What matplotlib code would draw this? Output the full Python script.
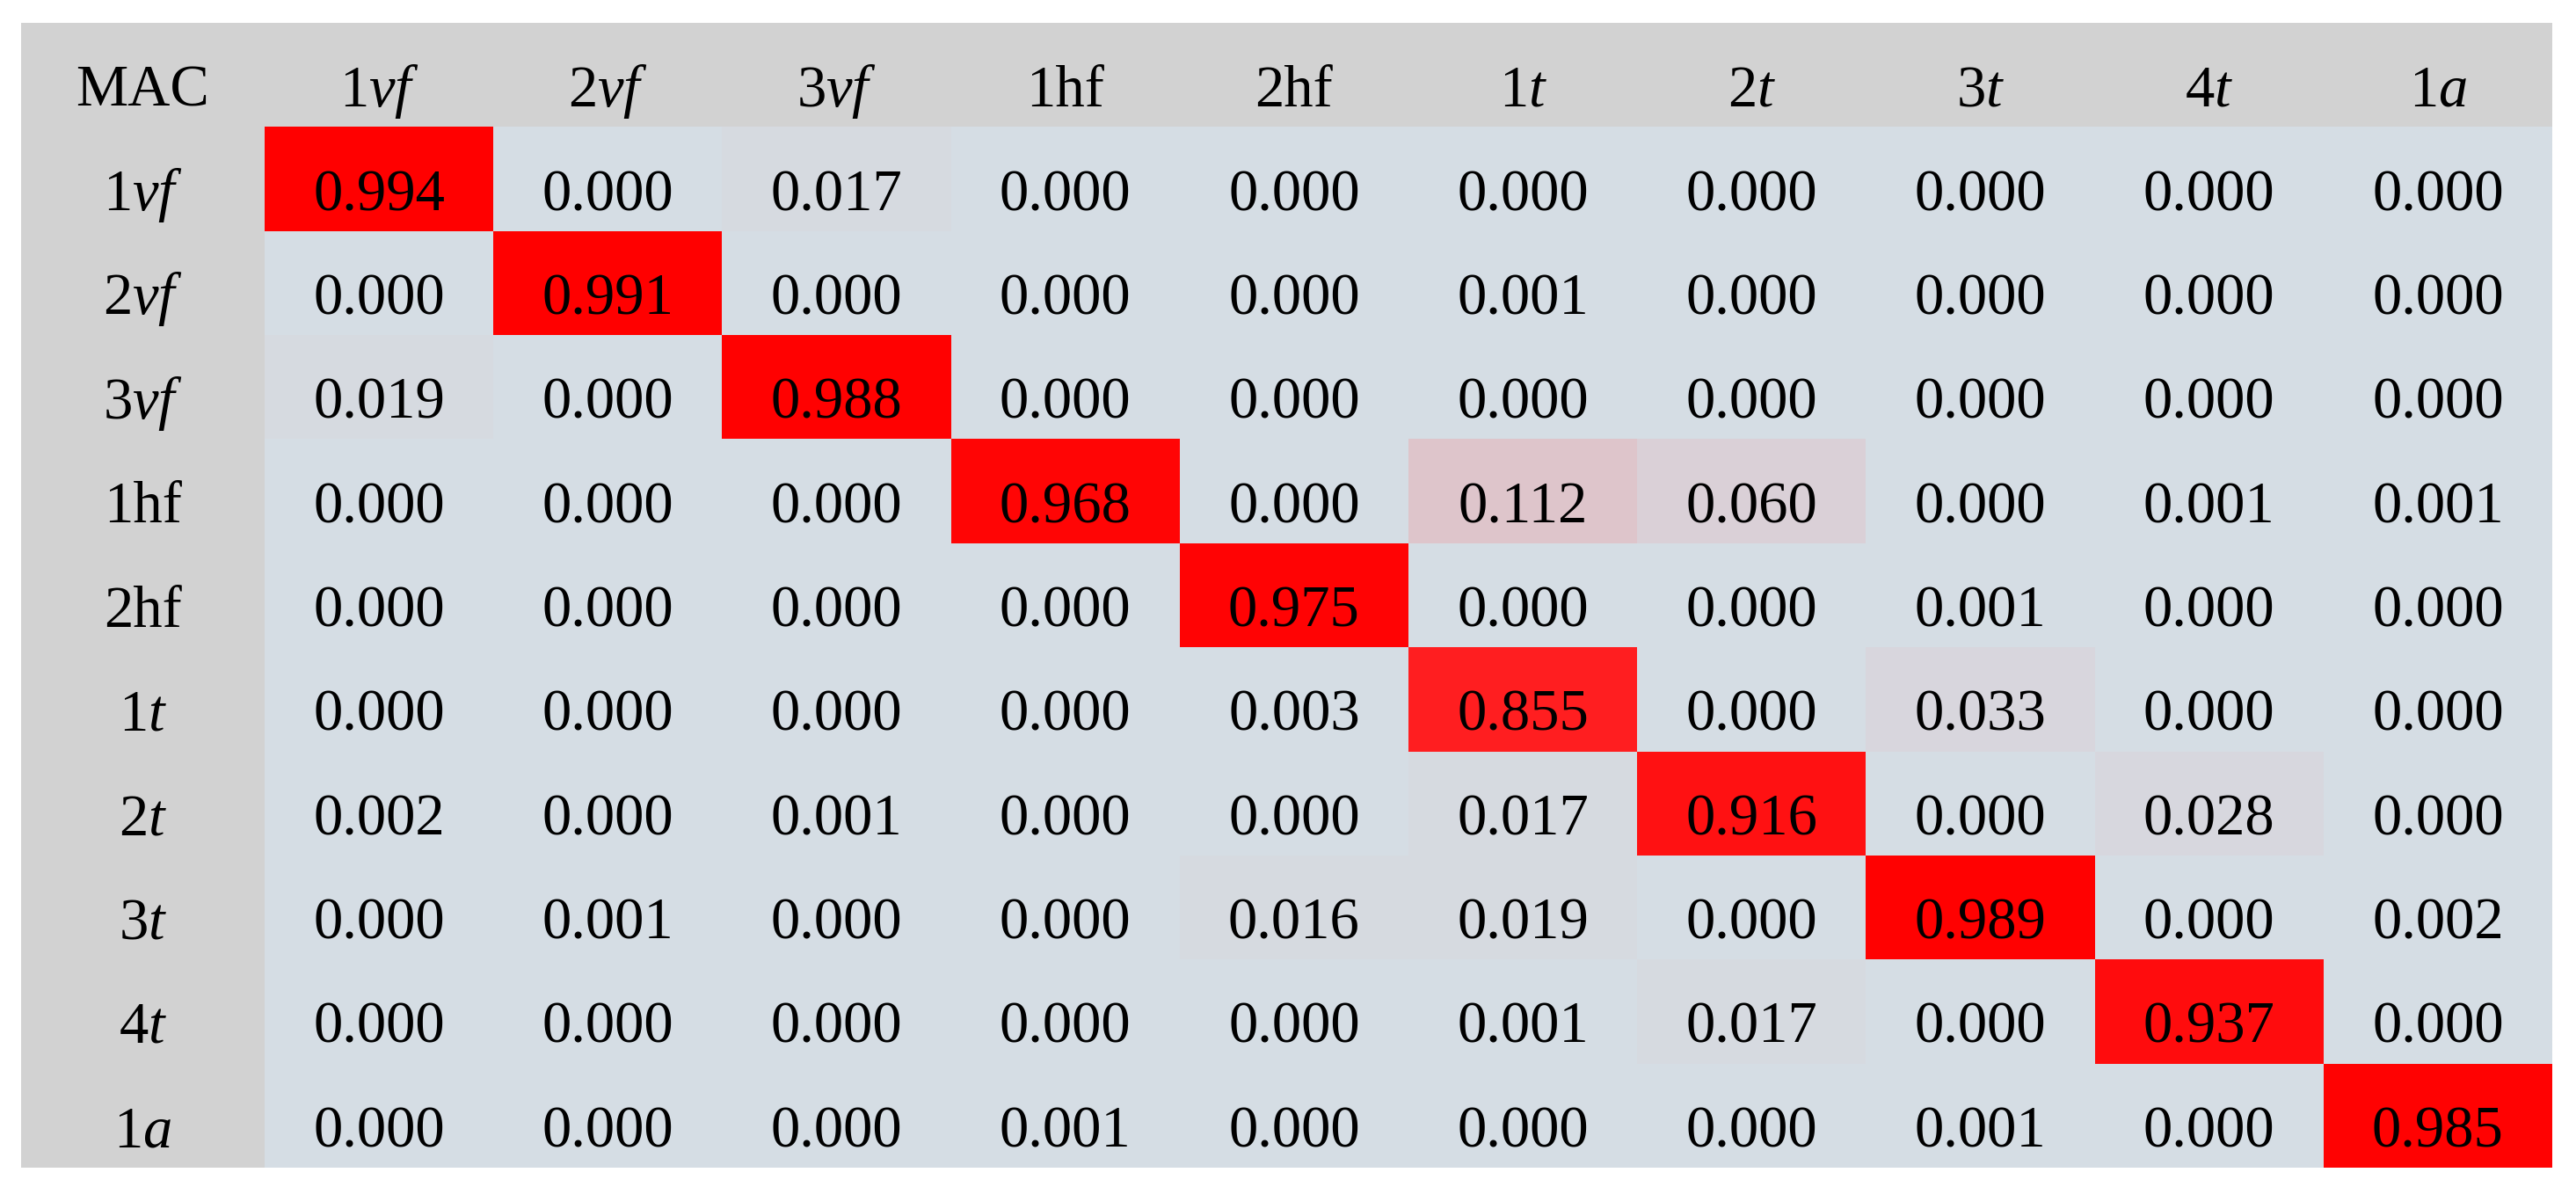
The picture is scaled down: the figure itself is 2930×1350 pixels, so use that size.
import numpy as np
import matplotlib
matplotlib.use("Agg")
import matplotlib.pyplot as plt
from matplotlib.colors import LinearSegmentedColormap, Normalize

plt.rcParams['font.family'] = ['Liberation Serif', 'DejaVu Serif']
plt.rcParams['mathtext.fontset'] = 'custom'
plt.rcParams['mathtext.rm'] = 'Liberation Serif'
plt.rcParams['mathtext.it'] = 'Liberation Serif:italic'

## DATA ####################################################

modes = ['1$\\mathit{vf}$', '2$\\mathit{vf}$', '3$\\mathit{vf}$', '1hf', '2hf',
         '1$\\mathit{t}$', '2$\\mathit{t}$', '3$\\mathit{t}$', '4$\\mathit{t}$',
         '1$\\mathit{a}$']
corner_label = 'MAC'

mac = np.array([
    [0.994, 0.000, 0.017, 0.000, 0.000, 0.000, 0.000, 0.000, 0.000, 0.000],
    [0.000, 0.991, 0.000, 0.000, 0.000, 0.001, 0.000, 0.000, 0.000, 0.000],
    [0.019, 0.000, 0.988, 0.000, 0.000, 0.000, 0.000, 0.000, 0.000, 0.000],
    [0.000, 0.000, 0.000, 0.968, 0.000, 0.112, 0.060, 0.000, 0.001, 0.001],
    [0.000, 0.000, 0.000, 0.000, 0.975, 0.000, 0.000, 0.001, 0.000, 0.000],
    [0.000, 0.000, 0.000, 0.000, 0.003, 0.855, 0.000, 0.033, 0.000, 0.000],
    [0.002, 0.000, 0.001, 0.000, 0.000, 0.017, 0.916, 0.000, 0.028, 0.000],
    [0.000, 0.001, 0.000, 0.000, 0.016, 0.019, 0.000, 0.989, 0.000, 0.002],
    [0.000, 0.000, 0.000, 0.000, 0.000, 0.001, 0.017, 0.000, 0.937, 0.000],
    [0.000, 0.000, 0.000, 0.001, 0.000, 0.000, 0.000, 0.001, 0.000, 0.985],
])

## STYLE ###################################################

HEADER_COLOR = '#d2d2d2'
cmap = LinearSegmentedColormap.from_list(
    'mac', [(0.0, '#d5dde4'), (0.5, '#ff6e73'), (1.0, '#ff0000')])
norm = Normalize(vmin=0.0, vmax=mac.max())

W, H = 2930, 1350
DPI = 100
HEAD_W = 277 / 260.2   # header column width in data-column units
FS = 48

fig = plt.figure(figsize=(W / DPI, H / DPI), dpi=DPI, facecolor='white')
ax = fig.add_axes([24 / W, (H - 1328) / H, (2903 - 24) / W, (1328 - 26) / H])
ax.set_xlim(-HEAD_W, len(modes))
ax.set_ylim(len(modes) + 1, 0)
ax.axis('off')

# header row and column
ax.axhspan(0, 1, color=HEADER_COLOR, lw=0)
ax.axvspan(-HEAD_W, 0, color=HEADER_COLOR, lw=0)

# MAC cells
x_edges = np.arange(len(modes) + 1)
y_edges = np.arange(1, len(modes) + 2)
ax.pcolormesh(x_edges, y_edges, mac, cmap=cmap, norm=norm, edgecolors='none')

BASE = 0.80  # baseline position inside a cell (from top)

ax.text(-HEAD_W / 2, BASE, corner_label, ha='center', va='baseline', fontsize=FS)
for j, m in enumerate(modes):
    ax.text(j + 0.5, BASE, m, ha='center', va='baseline', fontsize=FS)
    ax.text(-HEAD_W / 2, j + 1 + BASE, m, ha='center', va='baseline', fontsize=FS)

for i in range(len(modes)):
    for j in range(len(modes)):
        ax.text(j + 0.5, i + 1 + BASE, '%.3f' % mac[i, j],
                ha='center', va='baseline', fontsize=FS)

fig.savefig('out.png', dpi=DPI, facecolor='white')
